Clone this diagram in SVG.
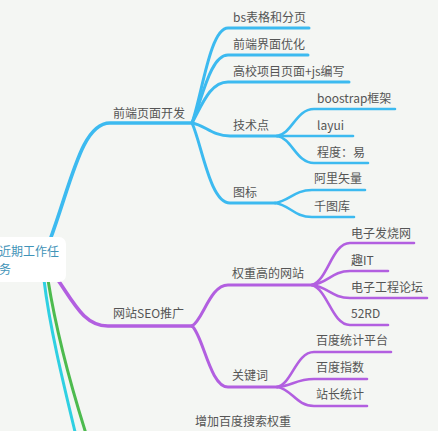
<svg xmlns="http://www.w3.org/2000/svg" width="438" height="431" viewBox="0 0 438 431">
<style>
.t{font-family:"Noto Sans CJK SC","Liberation Sans",sans-serif;font-size:12px;fill:#555}
.root{font-family:"Noto Sans CJK SC","Liberation Sans",sans-serif;font-size:12px;fill:#3f93b8}
.c{fill:none;stroke-linecap:round}
.b{stroke:#3cbaf0}
.p{stroke:#b25fe0}
.w1{stroke-width:3.6}
.w2{stroke-width:3}
.w3{stroke-width:2.6}
</style>
<rect width="438" height="431" fill="#f4f6f3"/>
<g id="connectors">
<path class="c w2" stroke="#2fd0e2" d="M44,280 C 50,330 65,390 77,440"/>
<path class="c w2" stroke="#4dbb4e" d="M48,280 C 56,330 72,390 88,440"/>
<path class="c b w1" d="M50,240 C 72,180 82,123 110,123 L192,123"/>
<path class="c b w2" d="M192,123 C 202,95 210,28 228,28 L309,28"/>
<path class="c b w2" d="M192,123 C 202,100 210,55 228,55 L308,55"/>
<path class="c b w2" d="M192,123 C 202,105 210,82 228,82 L349,82"/>
<path class="c b w2" d="M192,123 C 205,125 212,136 230,136 L277,136"/>
<path class="c b w2" d="M192,123 C 202,145 210,203 230,203 L275,203"/>
<path class="c b w3" d="M277,136 C 292,134 296,109 314,109 L395,109"/>
<path class="c b w3" d="M277,136 L353,136"/>
<path class="c b w3" d="M277,136 C 292,138 296,163 314,163 L368,163"/>
<path class="c b w3" d="M275,203 C 290,201 294,190 312,190 L365,190"/>
<path class="c b w3" d="M275,203 C 290,205 294,217 312,217 L354,217"/>
<path class="c p w1" d="M58,280 C 75,305 85,326 108,326 L192,326"/>
<path class="c p w2" d="M192,326 C 203,320 210,285 228,285 L312,285"/>
<path class="c p w2" d="M192,326 C 203,335 210,387 228,387 L277,387"/>
<path class="c p w3" d="M312,285 C 328,280 332,243 350,243 L414,243"/>
<path class="c p w3" d="M312,285 C 328,283 332,271 350,271 L388,271"/>
<path class="c p w3" d="M312,285 C 328,287 332,298 350,298 L427,298"/>
<path class="c p w3" d="M312,285 C 328,290 332,325 350,325 L388,325"/>
<path class="c p w3" d="M277,387 C 292,384 296,352 314,352 L391,352"/>
<path class="c p w3" d="M277,387 C 292,386 296,379 314,379 L367,379"/>
<path class="c p w3" d="M277,387 C 292,389 296,406 314,406 L367,406"/>
</g>
<g id="root">
<rect x="-10" y="237" width="76" height="45" rx="7" fill="#fff"/>
<text class="root" x="-1" y="256">近期工作任</text>
<text class="root" x="-1" y="274">务</text>
</g>
<g id="n-frontend"><text class="t" x="113" y="117.5">前端页面开发</text></g>
<g id="n-bs"><text class="t" x="233" y="22">bs表格和分页</text></g>
<g id="n-ui"><text class="t" x="233" y="49">前端界面优化</text></g>
<g id="n-school"><text class="t" x="233" y="76">高校项目页面+js编写</text></g>
<g id="n-tech"><text class="t" x="233" y="130">技术点</text></g>
<g id="n-icon"><text class="t" x="233" y="197">图标</text></g>
<g id="n-bootstrap"><text class="t" x="317" y="103">boostrap框架</text></g>
<g id="n-layui"><text class="t" x="317" y="130">layui</text></g>
<g id="n-level"><text class="t" x="317" y="157">程度：易</text></g>
<g id="n-ali"><text class="t" x="314" y="183">阿里矢量</text></g>
<g id="n-qtk"><text class="t" x="314" y="211">千图库</text></g>
<g id="n-seo"><text class="t" x="113" y="318">网站SEO推广</text></g>
<g id="n-weight"><text class="t" x="232" y="278">权重高的网站</text></g>
<g id="n-keyword"><text class="t" x="232" y="380">关键词</text></g>
<g id="n-dzfsw"><text class="t" x="351" y="238">电子发烧网</text></g>
<g id="n-quit"><text class="t" x="351" y="265">趣IT</text></g>
<g id="n-dzgc"><text class="t" x="351" y="292">电子工程论坛</text></g>
<g id="n-52rd"><text class="t" x="351" y="318">52RD</text></g>
<g id="n-bdtj"><text class="t" x="316" y="345">百度统计平台</text></g>
<g id="n-bdzs"><text class="t" x="316" y="372">百度指数</text></g>
<g id="n-zztj"><text class="t" x="316" y="399">站长统计</text></g>
<g id="n-baidu"><text class="t" x="195" y="426">增加百度搜索权重</text></g>
</svg>
